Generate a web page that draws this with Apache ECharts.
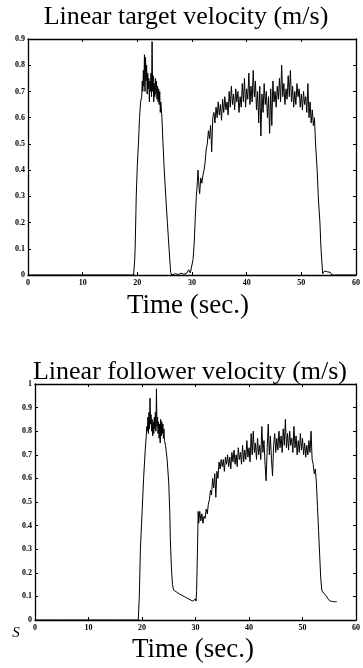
<!DOCTYPE html>
<html><head><meta charset="utf-8">
<script src="https://cdn.jsdelivr.net/npm/echarts@6/dist/echarts.min.js"></script>
<style>html,body{margin:0;padding:0;background:#fff}#c{width:363px;height:668px}</style>
</head><body><div id="c"></div>
<script>
const topTitle = 'Linear target velocity (m/s)';
const bottomTitle = 'Linear follower velocity (m/s)';
const xTitle = 'Time (sec.)';
const timeRange = [0, 60, 10];
const targetRange = [0, 0.9, 0.1];
const followerRange = [0, 1, 0.1];

// [time (s), velocity (m/s)]
const targetVelocity = [
[0,0],[5,0],[10,0],[15,0],[19.3,0],[19.5,0.05],[19.6,0.1],[19.8,0.3],[20.0,0.42],[20.2,0.5],[20.4,0.6],[20.6,0.66],[20.8,0.68],
[20.9,0.74],[21.0,0.70],[21.1,0.78],[21.2,0.72],[21.3,0.84],[21.4,0.70],[21.5,0.83],[21.6,0.74],[21.7,0.80],[21.8,0.69],[21.9,0.77],
[22.0,0.71],[22.1,0.75],[22.2,0.66],[22.3,0.74],[22.4,0.70],[22.5,0.77],[22.6,0.68],[22.7,0.89],[22.8,0.70],[22.9,0.76],
[23.0,0.66],[23.1,0.73],[23.2,0.68],[23.3,0.75],[23.4,0.69],[23.5,0.74],[23.6,0.67],[23.7,0.72],[23.8,0.66],[23.9,0.71],
[24.0,0.65],[24.1,0.70],[24.2,0.62],[24.3,0.66],[24.5,0.6],[24.7,0.5],[24.9,0.41],[25.2,0.3],[25.5,0.2],[25.8,0.1],[26.1,0.01],[26.3,0],
[27,0.005],[27.5,0.002],[28,0.007],[28.5,0.003],[29,0.006],[29.4,0.02],[29.7,0.008],[30.0,0.01],[30.2,0.06],[30.4,0.12],
[30.6,0.22],[30.8,0.3],[31.0,0.36],[31.1,0.4],[31.3,0.33],[31.4,0.31],[31.6,0.37],[31.8,0.35],[32.0,0.38],[32.2,0.4],[32.4,0.43],
[32.6,0.48],[32.8,0.5],[33.0,0.55],[33.2,0.52],[33.4,0.57],[33.6,0.47],[33.8,0.6],
[34.0,0.62],[34.2,0.58],[34.4,0.64],[34.6,0.60],[34.8,0.66],[35.0,0.61],[35.2,0.65],[35.4,0.59],[35.6,0.67],[35.8,0.62],
[36.0,0.68],[36.2,0.63],[36.4,0.66],[36.6,0.61],[36.8,0.70],[37.0,0.64],[37.2,0.72],[37.4,0.65],[37.6,0.69],[37.8,0.63],
[38.0,0.71],[38.2,0.66],[38.4,0.70],[38.6,0.62],[38.8,0.68],[39.0,0.64],[39.2,0.73],[39.4,0.66],[39.6,0.75],[39.8,0.64],
[40.0,0.71],[40.2,0.67],[40.4,0.77],[40.6,0.65],[40.8,0.72],[41.0,0.66],[41.2,0.78],[41.4,0.68],[41.6,0.74],[41.8,0.63],
[42.0,0.70],[42.2,0.58],[42.4,0.72],[42.6,0.53],[42.8,0.69],[43.0,0.62],[43.2,0.73],[43.4,0.65],[43.6,0.70],[43.8,0.60],
[44.0,0.68],[44.2,0.54],[44.4,0.71],[44.6,0.57],[44.8,0.74],[45.0,0.66],[45.2,0.70],[45.4,0.64],[45.6,0.72],[45.8,0.67],
[46.0,0.75],[46.2,0.66],[46.4,0.80],[46.6,0.68],[46.8,0.73],[47.0,0.65],[47.2,0.71],[47.4,0.67],[47.6,0.76],[47.8,0.68],
[48.0,0.78],[48.2,0.66],[48.4,0.72],[48.6,0.64],[48.8,0.70],[49.0,0.65],[49.2,0.73],[49.4,0.68],[49.6,0.71],[49.8,0.64],
[50.0,0.69],[50.2,0.63],[50.4,0.70],[50.6,0.65],[50.8,0.68],[51.0,0.62],[51.2,0.73],[51.4,0.60],[51.6,0.66],[51.8,0.58],
[52.0,0.63],[52.2,0.57],[52.4,0.60],[52.6,0.5],[52.9,0.4],[53.1,0.3],[53.4,0.2],[53.6,0.1],[53.9,0.005],[54.2,0.015],
[54.8,0.012],[55.3,0.01],[55.6,0],[60,0]
];

const followerVelocity = [
[0,0],[5,0],[10,0],[15,0],[19.3,0],[19.5,0.1],[19.7,0.3],[20.0,0.45],[20.3,0.6],[20.6,0.72],[20.8,0.78],
[20.9,0.82],[21.0,0.80],[21.1,0.86],[21.2,0.79],[21.3,0.88],[21.4,0.81],[21.5,0.94],[21.6,0.83],[21.7,0.87],[21.8,0.80],[21.9,0.85],
[22.0,0.78],[22.1,0.84],[22.2,0.79],[22.3,0.86],[22.4,0.81],[22.5,0.88],[22.6,0.80],[22.7,0.98],[22.8,0.82],[22.9,0.86],
[23.0,0.79],[23.1,0.84],[23.2,0.77],[23.3,0.83],[23.4,0.75],[23.5,0.85],[23.6,0.78],[23.7,0.84],[23.8,0.79],[23.9,0.83],
[24.0,0.77],[24.1,0.81],[24.2,0.76],[24.4,0.74],[24.7,0.68],[25.0,0.58],[25.2,0.45],[25.3,0.34],[25.5,0.22],[25.7,0.15],[25.9,0.127],
[26.5,0.118],[27.0,0.11],[27.5,0.104],[28.0,0.098],[28.5,0.092],[29.0,0.086],[29.5,0.08],[29.8,0.076],[30.0,0.09],[30.1,0.08],
[30.2,0.12],[30.3,0.22],[30.4,0.33],[30.5,0.46],
[30.6,0.41],[30.8,0.46],[31.0,0.42],[31.2,0.45],[31.4,0.41],[31.6,0.44],[31.8,0.43],[32.0,0.47],[32.2,0.45],[32.4,0.49],
[32.6,0.51],[32.8,0.55],[33.0,0.53],[33.2,0.60],[33.4,0.56],[33.6,0.62],[33.8,0.52],[34.0,0.63],[34.2,0.60],[34.4,0.67],
[34.6,0.64],[34.8,0.68],[35.0,0.65],[35.2,0.68],[35.4,0.63],[35.6,0.69],[35.8,0.66],[36.0,0.70],[36.2,0.65],[36.4,0.69],
[36.6,0.64],[36.8,0.71],[37.0,0.67],[37.2,0.72],[37.4,0.66],[37.6,0.70],[37.8,0.65],[38.0,0.73],[38.2,0.68],[38.4,0.71],
[38.6,0.66],[38.8,0.74],[39.0,0.67],[39.2,0.72],[39.4,0.68],[39.6,0.76],[39.8,0.69],[40.0,0.73],[40.2,0.67],[40.4,0.79],
[40.6,0.70],[40.8,0.80],[41.0,0.71],[41.2,0.75],[41.4,0.68],[41.6,0.77],[41.8,0.70],[42.0,0.74],[42.2,0.68],[42.4,0.82],
[42.6,0.71],[42.8,0.76],[43.0,0.66],[43.2,0.59],[43.4,0.73],[43.6,0.83],[43.8,0.70],[44.0,0.78],[44.2,0.68],[44.4,0.61],
[44.6,0.74],[44.8,0.79],[45.0,0.71],[45.2,0.77],[45.4,0.72],[45.6,0.80],[45.8,0.73],[46.0,0.78],[46.2,0.71],[46.4,0.81],
[46.6,0.74],[46.8,0.85],[47.0,0.73],[47.2,0.79],[47.4,0.72],[47.6,0.80],[47.8,0.74],[48.0,0.77],[48.2,0.71],[48.4,0.82],
[48.6,0.73],[48.8,0.78],[49.0,0.70],[49.2,0.76],[49.4,0.71],[49.6,0.79],[49.8,0.72],[50.0,0.77],[50.2,0.70],[50.4,0.75],
[50.6,0.69],[50.8,0.74],[51.0,0.70],[51.2,0.76],[51.4,0.71],[51.6,0.80],[51.8,0.68],[52.0,0.66],[52.2,0.62],[52.4,0.64],
[52.6,0.58],[52.8,0.48],[53.0,0.38],[53.2,0.28],[53.4,0.18],[53.6,0.127],[54.0,0.112],[54.4,0.104],[54.8,0.088],
[55.2,0.08],[55.6,0.079],[56.0,0.077],[56.4,0.078]
];

const serif = '"Liberation Serif", "DejaVu Serif", serif';
const labelStyle = {color:'#000', fontFamily: serif, fontSize: 8, fontWeight: 'bold'};

function xAxes(gi) {
  const base = {gridIndex: gi, type:'value', min: timeRange[0], max: timeRange[1], interval: timeRange[2],
    axisLine:{show:true, onZero:false, lineStyle:{color:'#000', width:1.3}},
    axisTick:{show:true, inside:true, length:3, lineStyle:{color:'#000', width:1}},
    splitLine:{show:false}};
  return [
    Object.assign({}, base, {position:'bottom', axisLabel:Object.assign({margin:4, showMinLabel:true, showMaxLabel:true}, labelStyle)}),
    Object.assign({}, base, {position:'top', axisLabel:{show:false}})
  ];
}
function yAxes(gi, r) {
  const base = {gridIndex: gi, type:'value', min: r[0], max: r[1], interval: r[2],
    axisLine:{show:true, onZero:false, lineStyle:{color:'#000', width:1.3}},
    axisTick:{show:true, inside:true, length:3, lineStyle:{color:'#000', width:1}},
    splitLine:{show:false}};
  return [
    Object.assign({}, base, {position:'left', axisLabel:Object.assign({margin:3, showMinLabel:true, showMaxLabel:true}, labelStyle)}),
    Object.assign({}, base, {position:'right', axisLabel:{show:false}})
  ];
}

const chart = echarts.init(document.getElementById('c'), null, {renderer:'canvas'});
const titleStyle = {fill:'#000', font: '26px ' + serif, textAlign:'center', textVerticalAlign:'middle'};
const xTitleStyle = {fill:'#000', font: '27px ' + serif, textAlign:'center', textVerticalAlign:'middle'};
chart.setOption({
  animation:false,
  backgroundColor:'#fff',
  grid:[
    {left:28, right:4, top:39, height:236},
    {left:35, right:0, top:384, height:236}
  ],
  xAxis: xAxes(0).concat(xAxes(1)),
  yAxis: yAxes(0, targetRange).concat(yAxes(1, followerRange)),
  series:[
    {type:'line', xAxisIndex:0, yAxisIndex:0, data: targetVelocity, showSymbol:false, lineStyle:{color:'#000', width:1}},
    {type:'line', xAxisIndex:2, yAxisIndex:2, data: followerVelocity, showSymbol:false, lineStyle:{color:'#000', width:1}}
  ],
  graphic:[
    {type:'text', x:186, y:17, style:Object.assign({text:topTitle}, titleStyle)},
    {type:'text', x:188, y:306, style:Object.assign({text:xTitle}, xTitleStyle)},
    {type:'text', x:190, y:372, style:Object.assign({text:bottomTitle}, titleStyle)},
    {type:'text', x:193, y:650, style:Object.assign({text:xTitle}, xTitleStyle)},
    {type:'text', x:16, y:633, style:{text:'S', fill:'#000', font:'italic 15px ' + serif, textAlign:'center', textVerticalAlign:'middle'}}
  ]
});
</script></body></html>
